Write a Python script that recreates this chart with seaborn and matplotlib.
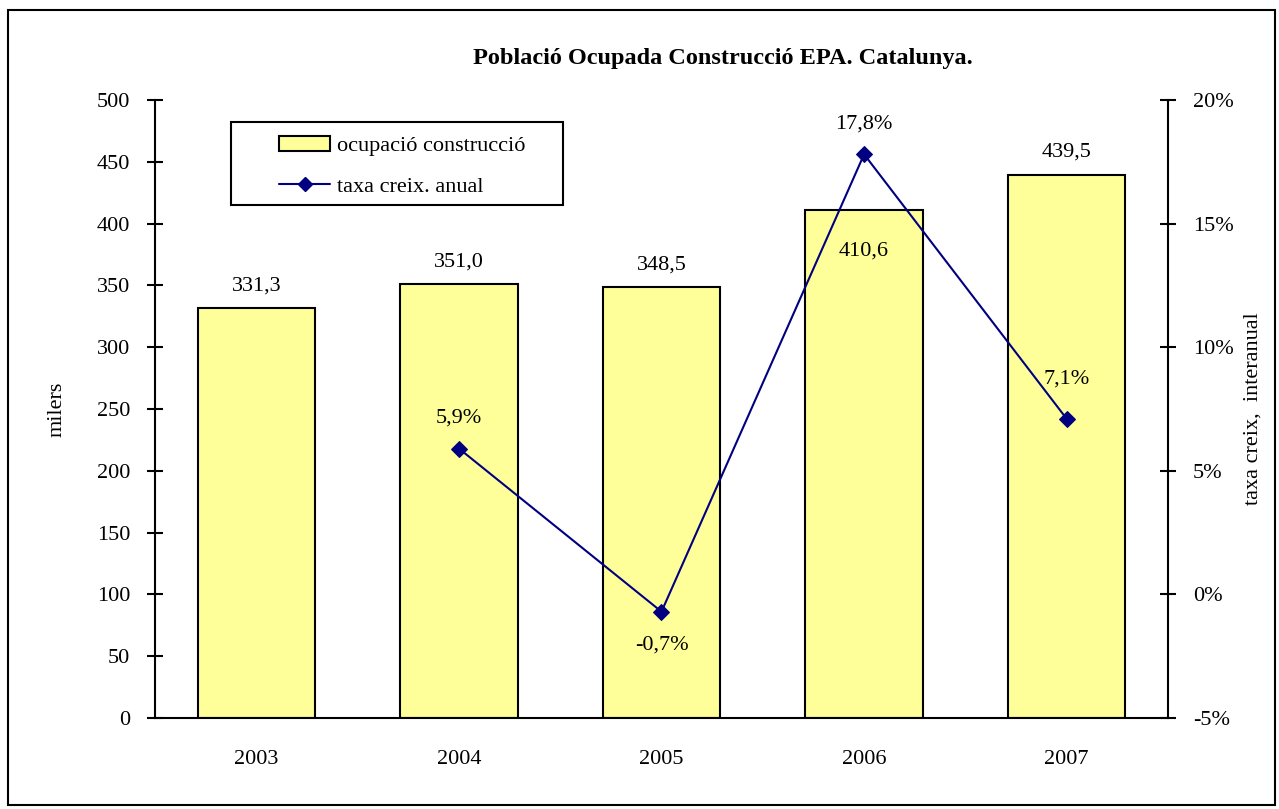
import numpy as np
import pandas as pd
import seaborn as sns
import matplotlib.pyplot as plt
from matplotlib.patches import Rectangle
from matplotlib.lines import Line2D
from matplotlib.ticker import MultipleLocator, FuncFormatter

anys = ['2003', '2004', '2005', '2006', '2007']
ocupacio = [331.3, 351.0, 348.5, 410.6, 439.5]
taxa = [np.nan, 5.9, -0.7, 17.8, 7.1]

df = pd.DataFrame({'any': anys, 'ocupacio': ocupacio, 'taxa': taxa, 'pos': range(len(anys))})

sns.set_style('white')
plt.rcParams['font.family'] = ['Liberation Serif', 'DejaVu Serif']
plt.rcParams['font.size'] = 16
plt.rcParams['text.color'] = 'black'
plt.rcParams['axes.labelcolor'] = 'black'
plt.rcParams['xtick.color'] = 'black'
plt.rcParams['ytick.color'] = 'black'

fig = plt.figure(figsize=(12.79, 8.09), dpi=100)
ax = fig.add_axes([0.1212, 0.1125, 0.792, 0.764])

sns.barplot(data=df, x='any', y='ocupacio', color='#FFFF99', edgecolor='black',
            linewidth=1.5, width=0.58, saturation=1, ax=ax, zorder=2)

ax.set_xlim(-0.5, 4.5)
ax.set_ylim(0, 500)
ax.yaxis.set_major_locator(MultipleLocator(50))
ax.set_xticks(np.arange(-0.5, 5, 1), minor=False)
ax.set_xticklabels([])
ax.set_xticks(range(5), minor=True)
ax.set_xticklabels(anys, minor=True)
ax.tick_params(axis='x', which='major', direction='inout', length=12, width=1.5)
ax.tick_params(axis='x', which='minor', length=0, pad=23, labelsize=16)
ax.tick_params(axis='y', direction='inout', length=12, width=1.5, pad=12, labelsize=16)
ax.set_xlabel('')
ax.set_ylabel('milers', fontsize=16, labelpad=22)
for s in ['top', 'right']:
    ax.spines[s].set_visible(False)
for s in ['left', 'bottom']:
    ax.spines[s].set_linewidth(1.5)
    ax.spines[s].set_color('black')

offs = [16, 16, 16, -29.5, 16]
for i, v in enumerate(ocupacio):
    ax.annotate(f'{v:.1f}'.replace('.', ','), (i, v), xytext=(0, offs[i]),
                textcoords='offset points', ha='center', va='center', fontsize=16)

ax2 = ax.twinx()
sns.lineplot(data=df.dropna(), x='pos', y='taxa', color='#000080', marker='D',
             markersize=8, markeredgecolor='#000080', linewidth=1.5, ax=ax2)
ax2.set_ylim(-5, 20)
ax2.set_xlim(-0.5, 4.5)
ax2.yaxis.set_major_locator(MultipleLocator(5))
ax2.yaxis.set_major_formatter(FuncFormatter(lambda v, p: f'{v:.0f}%'))
ax2.tick_params(axis='y', direction='inout', length=12, width=1.5, pad=12, labelsize=16)
ax2.set_ylabel('taxa creix,  interanual', fontsize=16, labelpad=7)
ax2.set_xlabel('')
for s in ['top', 'left', 'bottom']:
    ax2.spines[s].set_visible(False)
ax2.spines['right'].set_linewidth(1.5)
ax2.spines['right'].set_color('black')

toffs = [0, 22, -24, 22, 29]
for i, v in enumerate(taxa):
    if np.isnan(v):
        continue
    ax2.annotate(f'{v:.1f}%'.replace('.', ','), (i, v), xytext=(0, toffs[i]),
                 textcoords='offset points', ha='center', va='center', fontsize=16)

# legend: frame drawn separately so the padding can be wider left/right
ax2.add_patch(Rectangle((0.075, 0.830), 0.328, 0.134, transform=ax2.transAxes,
                        facecolor='white', edgecolor='black', linewidth=1.5,
                        zorder=4, clip_on=False))
handles = [Rectangle((0, 0), 1, 1, facecolor='#FFFF99', edgecolor='black', linewidth=1.5),
           Line2D([0], [0], color='#000080', marker='D', markersize=7, linewidth=1.5)]
leg = ax2.legend(handles, ['ocupació construcció', 'taxa creix. anual'],
                 loc='upper left', bbox_to_anchor=(0.1224, 0.942), frameon=False,
                 fontsize=16, borderpad=0, handlelength=2.3, handletextpad=0.3,
                 labelspacing=0.9, borderaxespad=0)
leg.set_zorder(5)

fig.text(0.565, 0.928, 'Població Ocupada Construcció EPA. Catalunya.', ha='center',
         va='center', fontsize=17.5, fontweight='bold')

fig.patches.append(Rectangle((0.006, 0.005), 0.991, 0.983, transform=fig.transFigure,
                             fill=False, edgecolor='black', linewidth=1.5))

fig.savefig('out.png', dpi=100)
